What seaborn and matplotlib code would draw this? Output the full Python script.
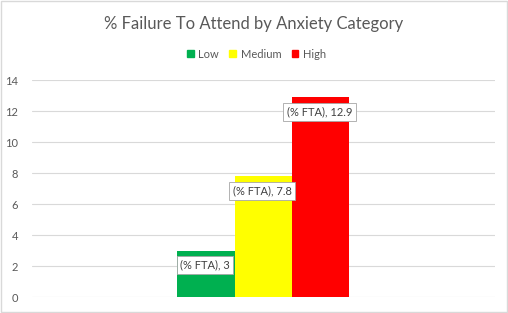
import matplotlib
matplotlib.use("Agg")
import matplotlib.pyplot as plt
import seaborn as sns
import pandas as pd
from matplotlib.patches import Rectangle

categories = ["Low", "Medium", "High"]
values = [3.0, 7.8, 12.9]
label_prefix = "(% FTA)"
colors = ["#00B050", "#FFFF00", "#FF0000"]
title = "% Failure To Attend by Anxiety Category"
yticks = [0, 2, 4, 6, 8, 10, 12, 14]

df = pd.DataFrame({"group": ["FTA"] * 3, "cat": categories, "val": values})

sns.set_style("white")
plt.rcParams["font.family"] = ["Lato", "DejaVu Sans"]

fig = plt.figure(figsize=(5.08, 3.13), dpi=100)
ax = fig.add_axes([0.063, 0.051, 0.911, 0.693])

sns.barplot(data=df, x="group", y="val", hue="cat", hue_order=categories,
            palette=colors, saturation=1, width=0.372, dodge=True,
            legend=False, ax=ax, linewidth=0, gap=0)

ax.set_xlim(-0.5, 0.5)
ax.set_ylim(0, 14)
ax.set_yticks(yticks)
ax.set_yticklabels([str(t) for t in yticks], color="#595959", fontsize=8)
ax.tick_params(axis="y", length=0, pad=10)
ax.set_xticks([])
ax.set_xlabel("")
ax.set_ylabel("")
ax.grid(axis="y", color="#D9D9D9", linewidth=0.8)
ax.set_axisbelow(True)
for s in ax.spines.values():
    s.set_visible(False)

for bar, v in zip(ax.patches, values):
    cx = bar.get_x() + bar.get_width() / 2
    ax.annotate(f"{label_prefix}, {v:g}", xy=(cx, v), xytext=(-1, -14.5),
                textcoords="offset pixels", ha="center", va="center",
                fontsize=8, color="#404040",
                bbox=dict(boxstyle="square,pad=0.32", fc="white", ec="#A6A6A6", lw=0.6))

fig.text(0.5, 0.922, title, ha="center", va="center", fontsize=12, color="#595959")

handles = [Rectangle((0, 0), 1, 1, color=c) for c in colors]
leg = fig.legend(handles, categories, loc="center", bbox_to_anchor=(0.505, 0.827),
                 ncol=3, frameon=False, fontsize=8, handlelength=0.6, handleheight=0.6,
                 handletextpad=0.4, columnspacing=0.95, labelcolor="#595959")

fig.patches.append(Rectangle((0.001, 0.002), 0.997, 0.995, transform=fig.transFigure,
                             fill=False, ec="#D9D9D9", lw=1))

fig.savefig("out.png", dpi=100)
